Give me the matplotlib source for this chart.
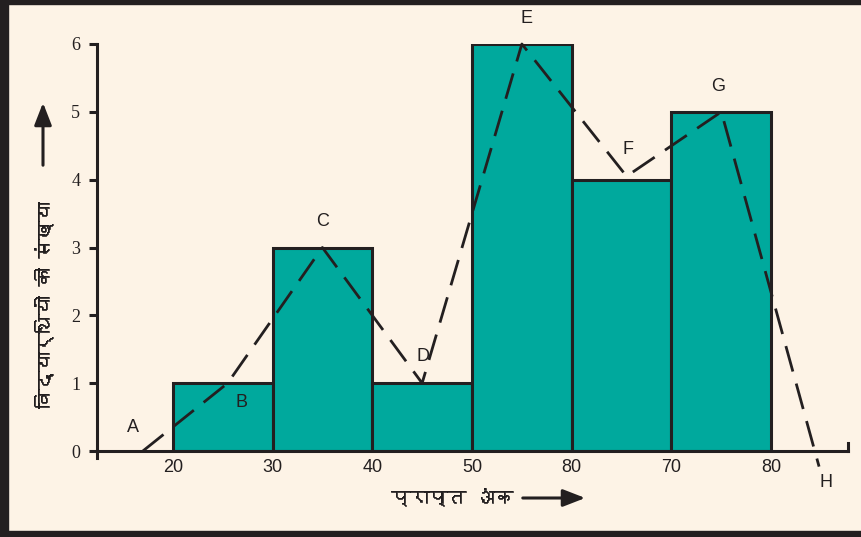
import matplotlib
matplotlib.use('Agg')
import matplotlib.pyplot as plt
import matplotlib.patheffects as pe
from matplotlib import font_manager
from matplotlib.ft2font import FT2Font
from matplotlib.patches import Rectangle, FancyArrowPatch

# дані гістограми
bin_edges = [20, 30, 40, 50, 60, 70, 80]
counts = [1, 3, 1, 6, 4, 5]
tick_labels = ['20', '30', '40', '50', '80', '70', '80']  # так у оригіналі

# вершини багатокутника частот
poly_names = ['A', 'B', 'C', 'D', 'E', 'F', 'G', 'H']
poly_x = [17, 25.5, 35, 45, 55, 65.5, 75, 84.8]
poly_y = [0, 1, 3, 1, 6, 4.05, 5, -0.23]
label_x = [16.0, 26.9, 35.0, 45.1, 55.5, 65.6, 74.7, 85.5]
label_y = [0.34, 0.71, 3.38, 1.39, 6.37, 4.44, 5.38, -0.46]

y_label = 'विद्यार्थियों की संख्या'
x_label = 'प्राप्त अंक'

BG = '#FDF3E6'
TEAL = '#00A99D'
DARK = '#231F20'


def find_devanagari_font():
    # шукаємо встановлений шрифт з гліфами деванагарі
    for f in font_manager.fontManager.ttflist:
        try:
            cmap = FT2Font(f.fname).get_charmap()
        except Exception:
            continue
        if 0x0915 in cmap and 0x094D in cmap:
            return f.name
    return 'DejaVu Sans'


hindi_font = find_devanagari_font()

fig = plt.figure(figsize=(8.62, 5.37), dpi=100)
fig.patch.set_facecolor(BG)

# рамка
fig.patches.append(Rectangle((0, 0), 8 / 862, 1, transform=fig.transFigure, color=DARK, zorder=0))
fig.patches.append(Rectangle((0, 1 - 4 / 537), 1, 4 / 537, transform=fig.transFigure, color=DARK, zorder=0))
fig.patches.append(Rectangle((0, 0), 1, 6 / 537, transform=fig.transFigure, color=DARK, zorder=0))

ax = fig.add_axes([97 / 862, 1 - 451 / 537, (848 - 97) / 862, (451 - 44) / 537])
ax.set_facecolor(BG)

widths = [bin_edges[i + 1] - bin_edges[i] for i in range(len(counts))]
ax.bar(bin_edges[:-1], counts, width=widths, align='edge', color=TEAL,
       edgecolor=DARK, linewidth=2.2, zorder=2)

ax.plot(poly_x, poly_y, color=DARK, linewidth=2, dashes=(9.5, 4.5), zorder=3, clip_on=False)

for name, lx, ly in zip(poly_names, label_x, label_y):
    ax.text(lx, ly, name, ha='center', va='center', fontsize=13,
            family='Liberation Sans', color=DARK, zorder=4, clip_on=False)

ax.set_xlim(12.4, 87.7)
ax.set_ylim(0, 6)

for s in ['top', 'right']:
    ax.spines[s].set_visible(False)
for s in ['left', 'bottom']:
    ax.spines[s].set_linewidth(2.2)
    ax.spines[s].set_color(DARK)

# невеликі засічки на кінцях осей
ax.plot([12.4, 12.4], [0, -0.1], color=DARK, linewidth=2.2, clip_on=False)
ax.plot([87.7, 87.7], [0, 0.12], color=DARK, linewidth=2.2, clip_on=False)

ax.set_xticks(bin_edges)
ax.set_xticklabels(tick_labels, family='Liberation Sans', fontsize=13, color=DARK)
ax.tick_params(axis='x', length=0, pad=6)
ax.set_yticks(range(7))
ax.set_yticklabels([str(v) for v in range(7)], family='Liberation Serif', fontsize=13, color=DARK)
ax.tick_params(axis='y', length=6, width=2.2, color=DARK, pad=6)

# підписи осей зі стрілками (обвідка робить шрифт жирнішим)
heavy = [pe.withStroke(linewidth=0.45, foreground=DARK)]
fig.text(43 / 862, 1 - 305 / 537, y_label, rotation=90, ha='center', va='center',
         fontsize=13.5, fontweight='bold', family=[hindi_font, 'DejaVu Sans'], color=DARK,
         path_effects=heavy)
fig.text(452 / 862, 1 - 497 / 537, x_label, ha='center', va='center',
         fontsize=13.5, fontweight='bold', family=[hindi_font, 'DejaVu Sans'], color=DARK,
         path_effects=heavy)

head = '-|>,head_length=0.9,head_width=0.35'
fig.add_artist(FancyArrowPatch(
    (43 / 862, 1 - 168 / 537), (43 / 862, 1 - 100 / 537), transform=fig.transFigure,
    arrowstyle=head, color=DARK, lw=2.2, mutation_scale=15))
fig.add_artist(FancyArrowPatch(
    (520 / 862, 1 - 498 / 537), (588 / 862, 1 - 498 / 537), transform=fig.transFigure,
    arrowstyle=head, color=DARK, lw=2.2, mutation_scale=15))

fig.savefig('out.png', dpi=100, facecolor=BG)
